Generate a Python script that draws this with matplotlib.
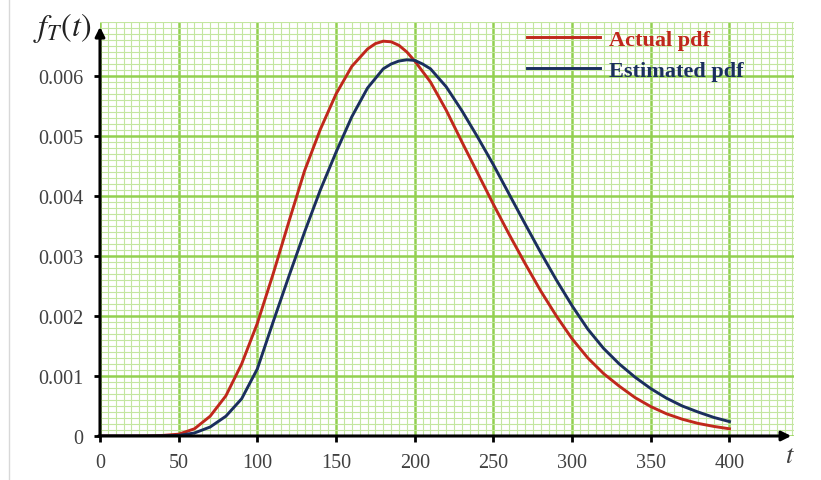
import matplotlib
matplotlib.use('Agg')
import matplotlib.pyplot as plt
from matplotlib.lines import Line2D
from matplotlib.ticker import MultipleLocator

plt.rcParams['font.family'] = ['Liberation Serif', 'DejaVu Serif']
plt.rcParams['mathtext.fontset'] = 'stix'

# values
t_actual = [0, 20, 30, 40, 50, 60, 70, 80, 90, 100, 110, 120, 130, 140, 150, 160,
            170, 175, 180, 185, 190, 195, 200, 210, 220, 230, 240, 250, 260, 270, 280,
            290, 300, 310, 320, 330, 340, 350, 360, 370, 380, 390, 400]
f_actual = [0, 0, 0.000002, 0.00001, 0.00003, 0.00012, 0.00033, 0.00067, 0.0012,
            0.00188, 0.0027, 0.00357, 0.00442, 0.00511, 0.0057, 0.00616,
            0.00645, 0.00654, 0.00658, 0.00657, 0.00651, 0.0064, 0.00625, 0.0059,
            0.00543, 0.0049, 0.00438, 0.00386, 0.00336, 0.00288, 0.00242,
            0.0020, 0.00162, 0.0013, 0.00104, 0.00083, 0.00064, 0.00049, 0.00037,
            0.00028, 0.00021, 0.00016, 0.00012]

t_est = [0, 30, 40, 50, 60, 70, 80, 90, 100, 110, 120, 130, 140, 150, 160, 170, 180,
         185, 190, 195, 200, 205, 210, 220, 230, 240, 250, 260, 270, 280, 290, 300,
         310, 320, 330, 340, 350, 360, 370, 380, 390, 400]
f_est = [0, 0, 0.000003, 0.00001, 0.00005, 0.00015, 0.00033, 0.00062, 0.00112,
         0.0019, 0.00266, 0.0034, 0.0041, 0.00473, 0.00532, 0.0058, 0.00612,
         0.0062, 0.00625, 0.00627, 0.00626, 0.0062, 0.00612, 0.00582, 0.00542,
         0.00498, 0.00452, 0.00403, 0.00354, 0.00306, 0.0026, 0.00217,
         0.00178, 0.00146, 0.0012, 0.00098, 0.00079, 0.00063, 0.0005, 0.0004,
         0.00031, 0.00024]

x_ticks = [0, 50, 100, 150, 200, 250, 300, 350, 400]
y_ticks = [0, 0.001, 0.002, 0.003, 0.004, 0.005, 0.006]
y_labels = ['0', '0.001', '0.002', '0.003', '0.004', '0.005', '0.006']

red = '#c0281c'
navy = '#1b2f5e'

fig = plt.figure(figsize=(8.21, 4.81), dpi=100)
ax = fig.add_axes([100 / 821, 44 / 481, 694 / 821, 414 / 481])

ax.plot(t_actual, f_actual, color=red, lw=2.1, label='Actual pdf', zorder=4,
        solid_joinstyle='round')
ax.plot(t_est, f_est, color=navy, lw=2.1, label='Estimated pdf', zorder=4,
        solid_joinstyle='round')

ax.set_xlim(0, 441)
ax.set_ylim(0, 0.0069)
ax.set_xticks(x_ticks)
ax.set_xticklabels([str(v) for v in x_ticks])
ax.set_yticks(y_ticks)
ax.set_yticklabels(y_labels)
ax.xaxis.set_minor_locator(MultipleLocator(5))
ax.yaxis.set_minor_locator(MultipleLocator(0.0001))

ax.grid(which='minor', color='#c3e6a0', lw=0.8, zorder=0)
ax.grid(which='major', color='#92d050', lw=1.8, zorder=1)
ax.set_axisbelow(True)

for s in ax.spines.values():
    s.set_visible(False)

ax.tick_params(which='major', length=4, width=2, color='black', labelsize=14.5,
               labelcolor='#404040')
ax.tick_params(axis='y', which='major', pad=8)
ax.tick_params(axis='x', which='major', pad=8)
ax.tick_params(which='minor', length=0)

# axes with arrow heads
ax.annotate('', xy=(1.0, 0), xytext=(-0.006, 0), xycoords='axes fraction',
            arrowprops=dict(arrowstyle='-|>', color='black', lw=2.2, mutation_scale=14),
            annotation_clip=False, zorder=6)
ax.annotate('', xy=(0, 0.995), xytext=(0, -0.008), xycoords='axes fraction',
            arrowprops=dict(arrowstyle='-|>', color='black', lw=2.2, mutation_scale=14),
            annotation_clip=False, zorder=6)

fig.text(33 / 821, 1 - 36 / 481, r'$f_T(t)$', fontsize=23, color='#222222')
fig.text(785 / 821, 1 - 463 / 481, r'$t$', fontsize=19, color='#404040')

leg = ax.legend(loc='upper left', bbox_to_anchor=(0.586, 1.03), frameon=False,
                handlelength=3.3, handletextpad=0.4, labelspacing=0.45,
                prop={'family': 'Liberation Serif', 'weight': 'bold', 'size': 16})
for txt, c in zip(leg.get_texts(), [red, navy]):
    txt.set_color(c)

fig.add_artist(Line2D([9 / 821, 9 / 821], [0, 1], color='#d8d8d8', lw=1))

fig.savefig('out.png', dpi=100)
